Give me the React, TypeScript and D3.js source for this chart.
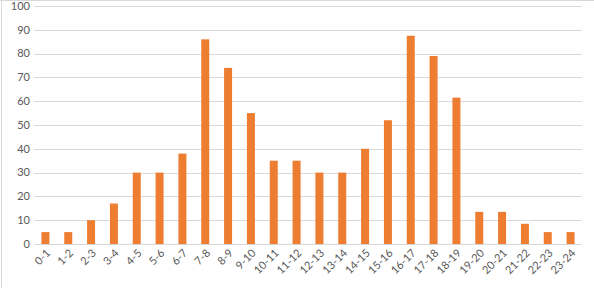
import React from "react";
import * as d3 from "d3";

const categories = ["0-1","1-2","2-3","3-4","4-5","5-6","6-7","7-8","8-9","9-10","10-11","11-12","12-13","13-14","14-15","15-16","16-17","17-18","18-19","19-20","20-21","21-22","22-23","23-24"];
const values = [5, 5, 10, 17, 30, 30, 38, 86, 74, 55, 35, 35, 30, 30, 40, 52, 87.5, 79, 61.5, 13.5, 13.5, 8.5, 5, 5];
const yTicks = [0, 10, 20, 30, 40, 50, 60, 70, 80, 90, 100];

const W = 594, H = 288;
const margin = { left: 34, right: 12, top: 6, bottom: 44 };

export default function App() {
  const x = d3.scaleBand<string>().domain(categories).range([margin.left, W - margin.right]).paddingInner(0.65).paddingOuter(0.325);
  const y = d3.scaleLinear().domain([0, 100]).range([H - margin.bottom, margin.top]);
  const font = "Lato, 'Liberation Sans', sans-serif";
  return (
    <div style={{ position: "fixed", left: 0, top: 0 }}>
      <svg width={W} height={H} style={{ display: "block", background: "#fff" }}>
        <line x1={0} x2={W} y1={0.5} y2={0.5} stroke="#D9D9D9" />
        <line x1={1.5} x2={1.5} y1={0} y2={H} stroke="#D9D9D9" />
        {yTicks.map((t) => (
          <g key={t}>
            <line x1={margin.left} x2={W - margin.right} y1={Math.round(y(t)) + 0.5} y2={Math.round(y(t)) + 0.5} stroke="#D9D9D9" strokeWidth={1} />
            <text x={margin.left - 4} y={y(t)} dy="0.35em" textAnchor="end" fontFamily={font} fontSize={11} fill="#595959">{t}</text>
          </g>
        ))}
        {categories.map((c, i) => (
          <rect key={c} x={x(c)} y={y(values[i])} width={x.bandwidth()} height={y(0) - y(values[i])} fill="#ED7D31" />
        ))}
        {categories.map((c) => {
          const cx = (x(c) as number) + x.bandwidth() / 2;
          const ty = y(0) + 7;
          return (
            <text key={c} x={cx + 3} y={ty} dy="0.35em" textAnchor="end" transform={`rotate(-45, ${cx + 3}, ${ty})`} fontFamily={font} fontSize={11} fill="#595959">{c}</text>
          );
        })}
      </svg>
    </div>
  );
}
